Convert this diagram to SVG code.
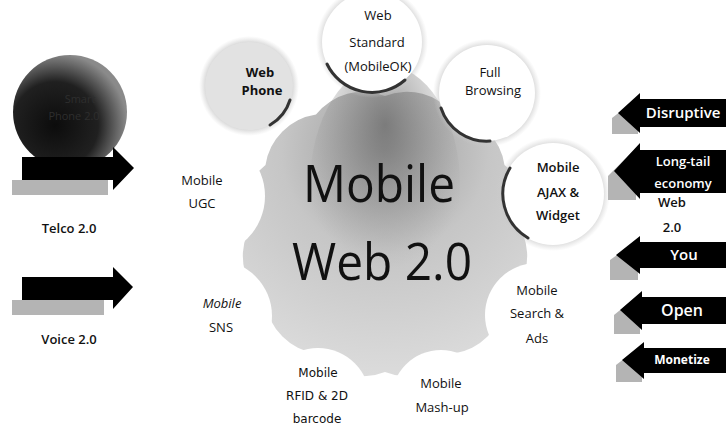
<svg xmlns="http://www.w3.org/2000/svg" width="726" height="427" viewBox="0 0 726 427">
  <defs>
    <radialGradient id="blobFill" cx="385" cy="150" r="230" gradientUnits="userSpaceOnUse">
      <stop offset="0" stop-color="#9a9a9a"/>
      <stop offset="0.45" stop-color="#c6c6c6"/>
      <stop offset="1" stop-color="#dcdcdc"/>
    </radialGradient>
    <radialGradient id="bandFill" cx="0.5" cy="0.25" r="0.6">
      <stop offset="0" stop-color="#6e6e6e" stop-opacity="0.75"/>
      <stop offset="1" stop-color="#9a9a9a" stop-opacity="0"/>
    </radialGradient>
    <radialGradient id="ballFill" cx="55" cy="125" r="72" gradientUnits="userSpaceOnUse">
      <stop offset="0" stop-color="#0c0c0c"/>
      <stop offset="0.6" stop-color="#202020"/>
      <stop offset="1" stop-color="#8a8a8a"/>
    </radialGradient>
    <radialGradient id="halo">
      <stop offset="0.84" stop-color="#bdbdbd" stop-opacity="0.75"/>
      <stop offset="1" stop-color="#d0d0d0" stop-opacity="0"/>
    </radialGradient>
  </defs>
  <style>
    .lbl { font-family: "Open Sans", "Noto Sans", sans-serif; font-size: 13px; fill: #111; text-anchor: middle; }
    .bold { font-weight: 700; }
    .semi { font-weight: 600; }
    .thin { font-family: "DejaVu Sans", sans-serif; font-size: 12px; }
    .big { font-family: "Open Sans", "Noto Sans", sans-serif; font-size: 52px; fill: #111; text-anchor: middle; }
    .tag { font-family: "Open Sans", "Noto Sans", sans-serif; font-size: 13px; fill: #fff; text-anchor: middle; font-weight: 600; }
    .sat { fill: #fff; }
    .faint { fill: #fff; }
    .edge { fill: none; stroke: #333; stroke-width: 3; stroke-linecap: round; }
    .arrow { fill: #000; }
    .shade { fill: #b4b4b4; }
  </style>

  <!-- central cog-shaped hub -->
  <g id="hub">
    <path d="M523,234 A60,60 0 0 1 504.5,303 A60,60 0 0 1 454,353.5 A60,60 0 0 1 385,372 A60,60 0 0 1 316,353.5 A60,60 0 0 1 265.5,303 A60,60 0 0 1 247,234 A60,60 0 0 1 265.5,165 A60,60 0 0 1 316,114.5 A60,60 0 0 1 385,96 A60,60 0 0 1 454,114.5 A60,60 0 0 1 504.5,165 A60,60 0 0 1 523,234 Z" fill="url(#blobFill)"/>
    <ellipse cx="385" cy="185" rx="75" ry="120" fill="url(#bandFill)"/>
  </g>

  <!-- outer satellites, white discs cutting the hub -->
  <g id="ugc">
    <circle class="faint" cx="205" cy="196" r="60"/>
    <text class="lbl" x="202" y="185">Mobile</text>
    <text class="lbl" x="202" y="208">UGC</text>
  </g>
  <g id="sns">
    <circle class="faint" cx="216" cy="316" r="56"/>
    <text class="lbl" x="222" y="308" font-style="italic">Mobile</text>
    <text class="lbl" x="221" y="332">SNS</text>
  </g>
  <g id="rfid">
    <circle class="faint" cx="318" cy="400" r="52"/>
    <text class="lbl thin" x="318" y="377">Mobile</text>
    <text class="lbl thin" x="317" y="400">RFID &amp; 2D</text>
    <text class="lbl thin" x="317" y="423">barcode</text>
  </g>
  <g id="mashup">
    <circle class="faint" cx="441" cy="400" r="50"/>
    <text class="lbl" x="441" y="388">Mobile</text>
    <text class="lbl" x="442" y="412">Mash-up</text>
  </g>
  <g id="search">
    <circle class="faint" cx="537" cy="315" r="52"/>
    <text class="lbl" x="537" y="295">Mobile</text>
    <text class="lbl" x="537" y="318">Search &amp;</text>
    <text class="lbl" x="537" y="343">Ads</text>
  </g>

  <!-- highlighted satellites -->
  <g id="webphone">
    <circle cx="249" cy="86" r="50" fill="url(#halo)"/>
    <circle cx="249" cy="86" r="44" fill="#e2e2e2"/>
    <path class="edge" d="M290,100 A44,44 0 0 1 270,125"/>
    <text class="lbl bold" x="260" y="77">Web</text>
    <text class="lbl bold" x="262" y="95">Phone</text>
  </g>
  <g id="webstandard">
    <circle cx="372" cy="42" r="56" fill="url(#halo)"/>
    <circle class="sat" cx="372" cy="42" r="50"/>
    <path class="edge" d="M327,64 A50,50 0 0 0 405,80"/>
    <text class="lbl" x="378" y="20">Web</text>
    <text class="lbl" x="377" y="47">Standard</text>
    <text class="lbl" x="378" y="71">(MobileOK)</text>
  </g>
  <g id="fullbrowsing">
    <circle cx="487" cy="93" r="54" fill="url(#halo)"/>
    <circle class="sat" cx="487" cy="93" r="48"/>
    <path class="edge" d="M441,108 A48,48 0 0 0 490,141"/>
    <text class="lbl" x="490" y="77">Full</text>
    <text class="lbl" x="493" y="95">Browsing</text>
  </g>
  <g id="ajax">
    <circle cx="553" cy="194" r="57" fill="url(#halo)"/>
    <circle class="sat" cx="553" cy="194" r="51"/>
    <path class="edge" d="M510,168 A51,51 0 0 0 528,238"/>
    <text class="lbl semi" x="558" y="172">Mobile</text>
    <text class="lbl semi" x="558" y="197">AJAX &amp;</text>
    <text class="lbl semi" x="558" y="220">Widget</text>
  </g>

  <!-- hub title -->
  <g id="title">
    <text class="big" x="379" y="202" textLength="152" lengthAdjust="spacingAndGlyphs">Mobile</text>
    <text class="big" x="382" y="280" textLength="180" lengthAdjust="spacingAndGlyphs">Web 2.0</text>
  </g>

  <!-- left sphere -->
  <g id="smartphone">
    <circle cx="70" cy="112" r="57" fill="url(#ballFill)"/>
    <text class="lbl" x="80" y="103" style="font-size:11px;fill:#2e2e2e">Smart</text>
    <text class="lbl" x="74" y="120" style="font-size:11px;fill:#2e2e2e">Phone 2.0</text>
  </g>

  <!-- arrows (connectors) -->
  <g id="connectors">
    <rect class="shade" x="12" y="180" width="96" height="15"/>
    <path class="arrow" d="M22,157 H113 V147 L134,168 L113,190 V180 H22 Z"/>
    <rect class="shade" x="12" y="300" width="92" height="15"/>
    <path class="arrow" d="M22,277 H113 V267 L133,287 L113,309 V300 H22 Z"/>

    <path class="shade" d="M612,118 L638,98 V134 L612,134 Z"/>
    <path class="arrow" d="M726,99 H640 V93 L618,113 L640,133 V127 H726 Z"/>
    <path class="shade" d="M608,176 L636,148 V200 L608,200 Z"/>
    <path class="arrow" d="M726,150 H640 V143 L614,171 L640,199 V193 H726 Z"/>
    <path class="shade" d="M610,260 L638,240 V280 L610,280 Z"/>
    <path class="arrow" d="M726,242 H640 V236 L616,255 L640,274 V268 H726 Z"/>
    <path class="shade" d="M614,315 L640,294 V334 L614,334 Z"/>
    <path class="arrow" d="M726,297 H642 V291 L620,310 L642,330 V324 H726 Z"/>
    <path class="shade" d="M616,365 L642,345 V382 L616,382 Z"/>
    <path class="arrow" d="M726,348 H644 V342 L622,360 L644,379 V373 H726 Z"/>
  </g>

  <!-- left labels -->
  <g id="telco"><text class="lbl semi" x="69" y="233">Telco 2.0</text></g>
  <g id="voice"><text class="lbl semi" x="69" y="344">Voice 2.0</text></g>

  <!-- right tags -->
  <g id="disruptive"><text class="tag" x="683" y="118" style="font-size:15px">Disruptive</text></g>
  <g id="longtail">
    <text class="tag" x="683" y="166">Long-tail</text>
    <text class="tag" x="683" y="188">economy</text>
  </g>
  <g id="web20">
    <text class="lbl semi" x="672" y="207">Web</text>
    <text class="lbl semi" x="672" y="232">2.0</text>
  </g>
  <g id="you"><text class="tag" x="684" y="260" style="font-size:15px">You</text></g>
  <g id="open"><text class="tag" x="682" y="316" style="font-size:16px">Open</text></g>
  <g id="monetize"><text class="tag" x="682" y="364" style="font-size:12px;font-weight:700">Monetize</text></g>
</svg>
